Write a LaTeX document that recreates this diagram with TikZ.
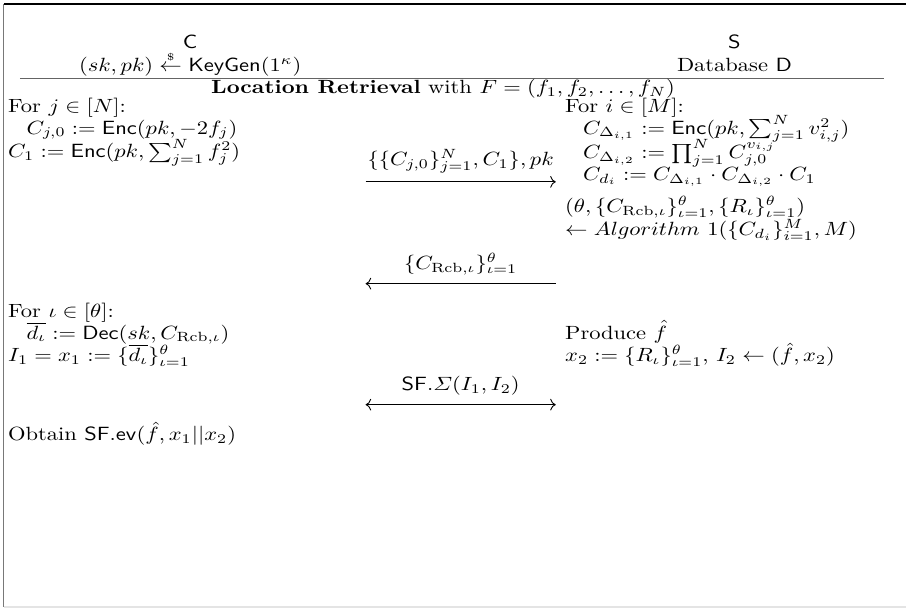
\documentclass[tikz,border=0pt]{standalone}
\usepackage{amsmath, amssymb}
\usetikzlibrary{arrows.meta, positioning, calc}
\definecolor{framegray}{RGB}{120, 120, 120}
\definecolor{rulegray}{RGB}{100, 100, 100}
\definecolor{basegray}{RGB}{228, 228, 228}

\begin{document}
\begin{tikzpicture}[
          txt/.style={yscale=0.85, transform shape},
          ln/.style={txt, anchor=mid west, inner sep=0pt},
          hd/.style={txt, anchor=mid, inner sep=0pt},
          msg/.style={thin, -{To}},
          lbl/.style={txt, above=1pt},
      ]
      \useasboundingbox (0, 0) rectangle (14.15, -9.57);
      % frame
      \draw[line width=0.6pt] (0.06, -0.06) -- (14.15, -0.06);
      \draw[framegray, line width=0.5pt] (0.06, -0.06) -- (0.06, -9.48);
      \draw[basegray, line width=0.5pt] (0.06, -9.48) -- (14.15, -9.48);
      % parties
      \node[hd] (cname) at (2.97, -0.69) {$\mathsf{C}$};
      \node[hd] (ckey) at (2.97, -1.05)
          {$(sk, pk) \overset{\scriptscriptstyle\$}{\leftarrow}
          \mathsf{KeyGen}(1^{\kappa})$};
      \node[hd] (sname) at (11.47, -0.69) {$\mathsf{S}$};
      \node[hd] (sdb) at (11.47, -1.05) {Database $\mathsf{D}$};
      \draw[rulegray] (0.31, -1.23) -- (13.81, -1.23);
      \node[hd] (title) at (6.92, -1.39)
          {\textbf{Location Retrieval} with $F = (f_1, f_2, \ldots, f_N)$};
      % client, first round
      \node[ln] (l1) at (0.12, -1.69) {For $j \in [N]$:};
      \node[ln] (l2) at (0.41, -2.03)
          {$C_{j,0} := \mathsf{Enc}(pk, -2f_j)$};
      \node[ln] (l3) at (0.12, -2.40)
          {$C_1 := \mathsf{Enc}(pk, \sum_{j=1}^{N} f_j^2)$};
      % server
      \node[ln] (r1) at (8.82, -1.69) {For $i \in [M]$:};
      \node[ln] (r2) at (9.10, -2.03)
          {$C_{\Delta_{i,1}} := \mathsf{Enc}(pk, \sum_{j=1}^{N} v_{i,j}^2)$};
      \node[ln] (r3) at (9.10, -2.41)
          {$C_{\Delta_{i,2}} := \prod_{j=1}^{N} C_{j,0}^{v_{i,j}}$};
      \node[ln] (r4) at (9.10, -2.75)
          {$C_{d_i} := C_{\Delta_{i,1}} \cdot C_{\Delta_{i,2}} \cdot C_1$};
      \node[ln] (r5) at (8.82, -3.26)
          {$(\theta, \{C_{\mathrm{Rcb},\iota}\}_{\iota=1}^{\theta},
          \{R_\iota\}_{\iota=1}^{\theta})$};
      \node[ln] (r6) at (8.82, -3.62)
          {$\leftarrow Algorithm\ 1(\{C_{d_i}\}_{i=1}^{M}, M)$};
      % client, second round
      \node[ln] (l4) at (0.12, -4.89) {For $\iota \in [\theta]$:};
      \node[ln] (l5) at (0.41, -5.23)
          {$\overline{d_\iota} := \mathsf{Dec}(sk, C_{\mathrm{Rcb},\iota})$};
      \node[ln] (l6) at (0.12, -5.58)
          {$I_1 = x_1 := \{\overline{d_\iota}\}_{\iota=1}^{\theta}$};
      \node[ln] (r7) at (8.82, -5.23) {Produce $\hat{f}$};
      \node[ln] (r8) at (8.82, -5.58)
          {$x_2 := \{R_\iota\}_{\iota=1}^{\theta}$, $I_2 \leftarrow (\hat{f}, x_2)$};
      \node[ln] (l7) at (0.12, -6.81)
          {Obtain $\mathsf{SF.ev}(\hat{f}, x_1||x_2)$};
      % messages
      \coordinate (m1a) at (5.71, -2.84);
      \coordinate (m1b) at (8.68, -2.84);
      \coordinate (m2a) at (5.71, -4.43);
      \coordinate (m2b) at (8.68, -4.43);
      \coordinate (m3a) at (5.71, -6.32);
      \coordinate (m3b) at (8.68, -6.32);
      \draw[msg] (m1a) -- node[lbl]
          {$\{\{C_{j,0}\}_{j=1}^{N}, C_1\}, pk$} (m1b);
      \draw[msg] (m2b) -- node[lbl]
          {$\{C_{\mathrm{Rcb},\iota}\}_{\iota=1}^{\theta}$} (m2a);
      \draw[msg, {To}-{To}] (m3a) -- node[lbl]
          {$\mathsf{SF}.\varSigma(I_1, I_2)$} (m3b);
      \end{tikzpicture}
\end{document}
